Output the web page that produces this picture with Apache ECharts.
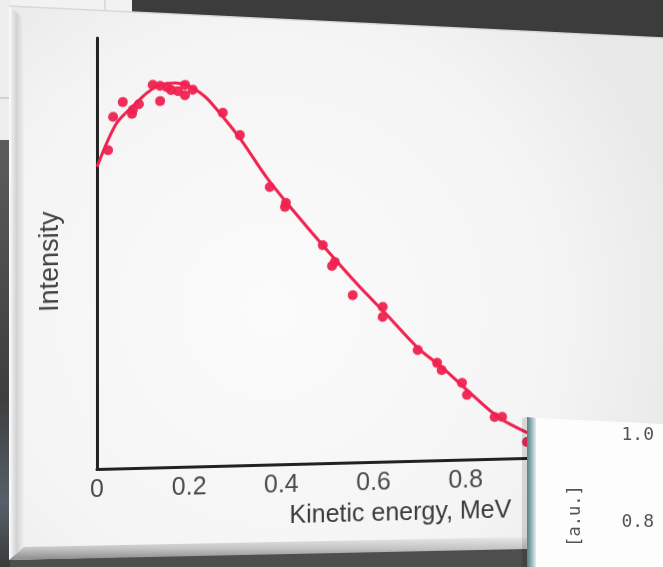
<!DOCTYPE html>
<html>
<head>
<meta charset="utf-8">
<script src="https://cdn.jsdelivr.net/npm/echarts@6/dist/echarts.min.js"></script>
<style>
html,body{margin:0;padding:0;width:663px;height:567px;overflow:hidden;background:#3c3c3c;}
.layer{position:absolute;left:0;top:0;width:663px;height:567px;}
#main{transform:skewY(-1.47deg);transform-origin:97px 469px;}
#inset{height:640px;}
</style>
</head>
<body>
<div id="bg" class="layer"></div>
<div id="main" class="layer"></div>
<div id="inset" class="layer"></div>
<script>
// ---- data ----
const xAxisTitle = 'Kinetic energy, MeV';
const yAxisTitle = 'Intensity';
const xTickStep = 0.2;
const pointEnergy = [0.024,0.035,0.056,0.078,0.076,0.091,0.121,0.137,0.137,0.152,0.161,0.176,0.191,0.191,0.208,0.273,0.310,0.375,0.410,0.408,0.490,0.516,0.510,0.555,0.620,0.620,0.696,0.738,0.748,0.792,0.803,0.863,0.879,0.933];
const pointIntensity = [0.739,0.816,0.850,0.831,0.822,0.844,0.888,0.850,0.885,0.882,0.875,0.872,0.886,0.862,0.874,0.819,0.766,0.644,0.606,0.597,0.506,0.466,0.457,0.388,0.359,0.336,0.257,0.226,0.209,0.178,0.150,0.097,0.097,0.037];
const fitEnergy = [0,0.022,0.043,0.065,0.087,0.109,0.130,0.150,0.170,0.190,0.210,0.235,0.260,0.310,0.369,0.419,0.499,0.570,0.625,0.696,0.748,0.803,0.870,0.935];
const fitIntensity = [0.701,0.758,0.802,0.827,0.849,0.870,0.884,0.890,0.891,0.887,0.877,0.857,0.827,0.759,0.665,0.597,0.494,0.407,0.345,0.262,0.216,0.161,0.097,0.058];
const insetTickValues = [0.8, 1.0];
const insetAxisTitle = '[a.u.]';

const RED = '#ef2250';
const FONT = 'Liberation Sans, Arial, sans-serif';

// ---- background layer ----
const bg = echarts.init(document.getElementById('bg'), null, {renderer:'canvas'});
bg.setOption({
  backgroundColor:'#3c3c3c',
  graphic:[
    {type:'rect', shape:{x:0,y:0,width:132,height:16}, style:{fill:'#f2f2f2'}},
    {type:'rect', shape:{x:0,y:0,width:10,height:140}, style:{fill:'#ededed'}},
    {type:'line', shape:{x1:0,y1:98,x2:10,y2:98}, style:{stroke:'#b8b8b8',lineWidth:1}},
    {type:'line', shape:{x1:105,y1:0,x2:105,y2:10}, style:{stroke:'#c8c8c8',lineWidth:1}},
    {type:'rect', shape:{x:0,y:140,width:10,height:427},
      style:{fill:new echarts.graphic.LinearGradient(0,0,0,1,[{offset:0,color:'#5c5c5c'},{offset:0.6,color:'#3e3e3e'},{offset:0.85,color:'#56606a'},{offset:1,color:'#3a3a3a'}])}},
    {type:'rect', shape:{x:10,y:548,width:520,height:19}, style:{fill:'#4e4e4e'}},
    {type:'polygon', shape:{points:[[9,6],[663,38],[663,546],[527,546],[9,560]]},
      style:{fill:new echarts.graphic.RadialGradient(0.4,0.55,0.75,[{offset:0,color:'#fbfbfb'},{offset:0.7,color:'#f4f4f4'},{offset:1,color:'#e9e9e9'}])}},
    {type:'polygon', shape:{points:[[9,6],[24,19],[24,547],[9,560]]},
      style:{fill:new echarts.graphic.LinearGradient(0,0,1,0,[{offset:0,color:'#ffffff'},{offset:0.25,color:'#e6e6e6'},{offset:0.5,color:'#d2d2d2'},{offset:1,color:'#f1f1f1'}])}},
    {type:'polygon', shape:{points:[[9,560],[24,547],[527,537],[527,549]]},
      style:{fill:new echarts.graphic.LinearGradient(0,0,0,1,[{offset:0,color:'#e8e8e8'},{offset:0.5,color:'#c4c4c4'},{offset:1,color:'#8a8a8a'}])}},
    {type:'polyline', shape:{points:[[9,6],[663,38]]}, style:{stroke:'#d8d8d8',lineWidth:1.5}}
  ]
});

// ---- main chart (skewed layer) ----
const main = echarts.init(document.getElementById('main'), null, {renderer:'canvas'});
main.setOption({
  backgroundColor:'transparent',
  animation:false,
  grid:{left:97, top:38, width:461, bottom:98},
  xAxis:{
    type:'value', min:0, max:1, interval:xTickStep,
    name:xAxisTitle, nameLocation:'middle', nameGap:40,
    nameTextStyle:{fontFamily:FONT, fontSize:25, color:'#3a3a3a', padding:[0,0,0,146]},
    axisLine:{show:true, onZero:false, lineStyle:{color:'#222', width:3}},
    axisTick:{show:false},
    splitLine:{show:false},
    axisLabel:{fontFamily:FONT, fontSize:25, color:'#4a4a4a', margin:9, showMaxLabel:false}
  },
  yAxis:{
    type:'value', min:0, max:1,
    name:yAxisTitle, nameLocation:'middle', nameRotate:90, nameGap:33,
    nameTextStyle:{fontFamily:FONT, fontSize:27, color:'#444', padding:[0,14,0,0]},
    axisLine:{show:true, onZero:false, lineStyle:{color:'#222', width:3}},
    axisTick:{show:false},
    axisLabel:{show:false},
    splitLine:{show:false}
  },
  series:[
    {type:'line', data:fitEnergy.map((x,i)=>[x,fitIntensity[i]]), smooth:0.3, showSymbol:false,
      lineStyle:{color:RED, width:3}, z:2},
    {type:'scatter', data:pointEnergy.map((x,i)=>[x,pointIntensity[i]]), symbolSize:10,
      itemStyle:{color:RED, opacity:0.95}, z:3}
  ]
});

// ---- inset layer ----
const inset = echarts.init(document.getElementById('inset'), null, {renderer:'canvas'});
inset.setOption({
  backgroundColor:'transparent',
  animation:false,
  graphic:[
    {type:'polygon', z:-1, shape:{points:[[522,418],[527,417],[527,567],[522,567]]},
      style:{fill:'rgba(0,0,0,0.12)'}},
    {type:'polygon', z:-1, shape:{points:[[536,418],[663,424],[663,567],[536,567]]}, style:{fill:'#fdfdfd'}},
    {type:'polygon', z:-1, shape:{points:[[527,417],[536,418],[536,567],[527,567]]},
      style:{fill:new echarts.graphic.LinearGradient(0,0,1,0,[{offset:0,color:'#577f85'},{offset:0.35,color:'#7fa3a8'},{offset:1,color:'#e4ecee'}])}}
  ],
  grid:{left:661, width:1, top:435, height:162},
  xAxis:{type:'value', show:false},
  yAxis:{
    type:'value', min:0.63, max:1.0, z:10,
    name:insetAxisTitle, nameLocation:'middle', nameRotate:90, nameGap:77,
    nameTextStyle:{fontFamily:'DejaVu Sans Mono, monospace', fontSize:17, color:'#555'},
    axisLine:{show:false}, axisTick:{show:false}, splitLine:{show:false},
    axisLabel:{customValues:insetTickValues, formatter:v=>v.toFixed(1),
      fontFamily:'DejaVu Sans Mono, monospace', fontSize:18, color:'#555', margin:7}
  },
  series:[]
});
</script>
</body>
</html>
